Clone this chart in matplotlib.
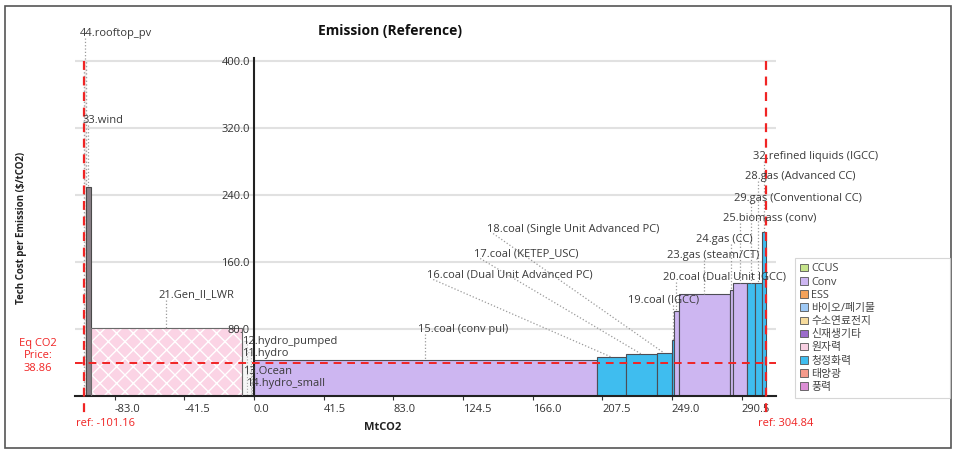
import numpy as np
import matplotlib
matplotlib.use("Agg")
import matplotlib.pyplot as plt
from matplotlib.patches import Patch, Rectangle
from matplotlib.lines import Line2D

plt.rcParams["font.family"] = ["Open Sans", "Noto Sans CJK KR", "DejaVu Sans"]
plt.rcParams["hatch.linewidth"] = 1.0

# ---------------------------------------------------------------- data
tech_labels = [
    "44.rooftop_pv", "33.wind", "21.Gen_II_LWR",
    "12.hydro_pumped", "11.hydro", "13.Ocean", "14.hydro_small",
    "15.coal (conv pul)", "16.coal (Dual Unit Advanced PC)", "17.coal (KETEP_USC)",
    "18.coal (Single Unit Advanced PC)", "19.coal (IGCC)", "20.coal (Dual Unit IGCC)",
    "23.gas (steam/CT)", "24.gas (CC)", "25.biomass (conv)",
    "29.gas (Conventional CC)", "28.gas (Advanced CC)", "32.refined liquids (IGCC)",
]
# MtCO2 per technology (negative = abated)
emissions = [
    -1.40, -2.40, -90.30,
    -3.00, -2.50, -0.60, -0.96,
    204.20, 17.20, 18.50,
    8.90, 1.20, 3.00,
    30.30, 1.80, 8.90,
    4.20, 4.20, 2.44,
]
# $/tCO2
costs = [
    400.0, 249.0, 81.6,
    66.0, 52.0, 30.0, 16.0,
    43.0, 46.6, 50.2,
    51.3, 67.0, 101.5,
    121.8, 126.6, 135.0,
    134.6, 135.4, 196.0,
]
groups = [
    "태양광", "풍력", "원자력",
    "신재생기타", "신재생기타", "신재생기타", "신재생기타",
    "Conv", "청정화력", "청정화력",
    "청정화력", "청정화력", "Conv",
    "Conv", "Conv", "Conv",
    "청정화력", "청정화력", "청정화력",
]

legend_groups = ["CCUS", "Conv", "ESS", "바이오/폐기물", "수소연료전지",
                 "신재생기타", "원자력", "청정화력", "태양광", "풍력"]
legend_colors = ["#c6e48b", "#cdb6f1", "#f4a25a", "#9ec9f6", "#f6db9c",
                 "#9b6ccb", "#f8cfe2", "#3fbdef", "#f59a8b", "#dc8ed5"]

eq_price = 38.86
ref_low = -101.16
ref_high = 304.84
x_ticks = [-83.0, -41.5, 0.0, 41.5, 83.0, 124.5, 166.0, 207.5, 249.0, 290.5]
y_ticks = [80.0, 160.0, 240.0, 320.0, 400.0]

# label anchors (left edge, vertical centre) in data units
label_pos = [
    (-103.5, 433.4), (-102.3, 329.6), (-57.1, 120.6),
    (-7.2, 64.8), (-7.2, 51.3), (-6.4, 28.7), (-4.6, 15.5),
    (97.9, 80.0), (103.2, 144.5), (131.2, 169.6),
    (138.9, 199.4), (222.9, 114.6), (243.8, 142.1),
    (246.2, 167.2), (263.4, 186.3), (279.5, 212.5),
    (286.1, 236.4), (292.7, 262.7), (297.5, 286.6),
]

# ---------------------------------------------------------------- figure
W, H = 956, 453
fig = plt.figure(figsize=(W / 100, H / 100), dpi=100)
ax = fig.add_axes([75 / W, 1 - 396 / H, 701 / W, (396 - 57.7) / H])

widths = np.abs(np.array(emissions))
lefts = ref_low + np.concatenate([[0.0], np.cumsum(widths)[:-1]])
color_of = dict(zip(legend_groups, legend_colors))

for lft, w, c, g in zip(lefts, widths, costs, groups):
    if g == "원자력":
        ax.bar(lft, c, w, align="edge", color="#fbd4e5", edgecolor="white",
               hatch="xx", linewidth=0, zorder=2)
        ax.bar(lft, c, w, align="edge", fill=False, edgecolor="#6a6a6a",
               linewidth=0.8, zorder=3)
    elif g == "태양광":
        ax.bar(lft, c, w, align="edge", color="#f6ecec", edgecolor="#a0a0a0",
               linestyle=":", linewidth=1.0, zorder=2)
    elif g == "신재생기타":
        ax.bar(lft, c, w, align="edge", color="#f5f5f5", edgecolor="#b0b0b0",
               linestyle=":", linewidth=0.8, zorder=2)
    elif g == "풍력":
        ax.bar(lft, c, w, align="edge", color="#8a8088", edgecolor="#4a4a4a",
               linewidth=0.8, zorder=2)
    else:
        ax.bar(lft, c, w, align="edge", color=color_of[g], edgecolor="#4d4d55",
               linewidth=0.8, zorder=2)

ax.set_xlim(-106.6, 311.0)
ax.set_ylim(0, 404)

# axes styling
for side in ("top", "right"):
    ax.spines[side].set_visible(False)
ax.spines["left"].set_position(("data", 0))
ax.spines["left"].set_color("#222222")
ax.spines["left"].set_linewidth(1.5)
ax.spines["left"].set_zorder(4)
ax.spines["bottom"].set_color("#222222")
ax.spines["bottom"].set_linewidth(1.5)

ax.set_yticks(y_ticks)
ax.tick_params(axis="y", length=0, labelleft=False)
ax.yaxis.grid(True, color="#e1e1e1", linewidth=1.5, zorder=0)
ax.set_axisbelow(True)
# value labels sit on top of the bars, just left of the zero line
for v in y_ticks:
    ax.annotate(f"{v:.1f}", xy=(0, v), xytext=(-4, -1), textcoords="offset pixels",
                ha="right", va="center", fontsize=8, color="#333333", zorder=8)

ax.set_xticks(x_ticks)
ax.set_xticklabels([f"{v:.1f}" for v in x_ticks])
ax.tick_params(axis="x", length=3, width=0.8, color="#333333", pad=3,
               labelsize=8, labelcolor="#333333")
for t in ax.get_xticklabels():
    t.set_horizontalalignment("left")

# equilibrium price and reference totals
red = "#f02424"
ax.axhline(eq_price, color=red, linestyle=(0, (4, 3)), linewidth=1.4, zorder=5)
for ref in (ref_low, ref_high):
    ax.plot([ref, ref], [400, -20.5], color=red, linestyle=(0, (4, 3)),
            linewidth=1.6, zorder=6, clip_on=False)
    ax.annotate(f"ref: {ref:.2f}", xy=(ref, 0), xytext=(-8, -27),
                textcoords="offset pixels", ha="left", va="center",
                color=red, fontsize=8, annotation_clip=False)

# technology labels
texts = []
for name, (tx, ty) in zip(tech_labels, label_pos):
    texts.append(ax.text(tx, ty, name, ha="left", va="center", fontsize=8,
                         color="#3a3a3a", zorder=7, clip_on=False))

fig.canvas.draw()
renderer = fig.canvas.get_renderer()
inv = ax.transData.inverted()
for txt, lft, w, c in zip(texts, lefts, widths, costs):
    bb = txt.get_window_extent(renderer)
    top_x, top_y = ax.transData.transform((lft + w / 2, min(c, 400)))
    if bb.y0 <= top_y:
        continue
    if bb.x0 <= top_x <= bb.x1:
        sx = top_x
    else:
        sx = bb.x0 + 6
    sy = bb.y0 + 1
    (x0, y0), (x1, y1) = inv.transform([(sx, sy), (top_x, top_y)])
    ax.add_line(Line2D([x0, x1], [y0, y1], color="#9a9a9a", linestyle=":",
                       linewidth=0.9, zorder=4, clip_on=False))

# titles and axis captions
fig.text(390 / W, 1 - 31 / H, "Emission (Reference)", ha="center", va="center",
         fontsize=10, fontweight="bold", color="#111111")
fig.text(383 / W, 1 - 428 / H, "MtCO2", ha="center", va="center",
         fontsize=8, fontweight="bold", color="#222222")
fig.text(22 / W, 1 - 228 / H, "Tech Cost per Emission ($/tCO2)", rotation=90,
         ha="center", va="center", fontsize=7, fontweight="bold", color="#222222")
fig.text(38 / W, 1 - 356 / H, f"Eq CO2\nPrice:\n{eq_price:.2f}", ha="center",
         va="center", fontsize=8, color=red, linespacing=1.2)

# legend
handles = [Patch(facecolor=col, edgecolor="#555555", linewidth=0.6)
           for col in legend_colors]
leg = fig.legend(handles, legend_groups, loc="upper left",
                 bbox_to_anchor=(795 / W, 1 - 258 / H, 155 / W, 0), mode="expand",
                 fontsize=7.8, frameon=True, fancybox=False, handlelength=0.7,
                 handleheight=0.7, handletextpad=0.3, labelspacing=0.2,
                 borderpad=0.5, borderaxespad=0)
leg.get_frame().set_edgecolor("#cccccc")
leg.get_frame().set_linewidth(0.8)
for t in leg.get_texts():
    t.set_color("#444444")

# outer frame
fig.patches.append(Rectangle((5 / W, 5 / H), 946 / W, 442 / H, fill=False,
                             edgecolor="#555555", linewidth=1.2,
                             transform=fig.transFigure, figure=fig))

fig.savefig("out.png", dpi=100)
